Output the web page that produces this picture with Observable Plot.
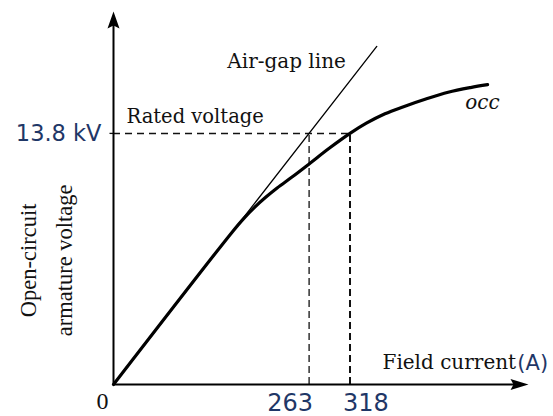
<!DOCTYPE html>
<html>
<head>
<meta charset="utf-8">
<script src="https://cdn.jsdelivr.net/npm/d3@7"></script>
<script src="https://cdn.jsdelivr.net/npm/@observablehq/plot@0.6"></script>
<style>
  html, body { margin: 0; padding: 0; background: #fff; }
</style>
</head>
<body>
<div id="chart"></div>
<script>
// Open-circuit characteristic (OCC) of a synchronous generator
const fieldCurrent = [0, 160, 175, 190, 205, 220, 240, 263, 290, 318, 340, 365, 390, 420, 450, 480, 503]; // A
const occVoltage   = [0, 8.4, 9.12, 9.75, 10.3, 10.8, 11.4, 12.12, 12.98, 13.8, 14.36, 14.88, 15.27, 15.69, 16.06, 16.32, 16.48]; // kV

// Air-gap line: the straight continuation of the OCC's linear part
const airGapCurrent = [0, 354];
const airGapVoltage = [0, 18.58];

// Rated voltage and the field currents that give it (air-gap line, OCC)
const ratedVoltage = 13.8;
const ratedCurrents = [263, 318];
const xTickLabels = ["263", "318"];
const yTickLabel = "13.8 kV";

// Axis extents
const xMax = 558;
const yMax = 20.5;

const occ = fieldCurrent.map((x, i) => ({x, y: occVoltage[i]}));
const airGap = airGapCurrent.map((x, i) => ({x, y: airGapVoltage[i]}));
const ticks = ratedCurrents.map((x, i) => ({x, label: xTickLabels[i]}));

const navy = "#1f3767";
const serif = "DejaVu Serif";
const times = "Liberation Serif";
const sans = "DejaVu Sans";

// Filled arrowheads for the axis ends, tip at the anchor point
const arrowUp = {
  draw(ctx) {
    ctx.moveTo(0, 0);
    ctx.lineTo(6, 17);
    ctx.lineTo(0, 14);
    ctx.lineTo(-6, 17);
    ctx.closePath();
  }
};
const arrowRight = {
  draw(ctx) {
    ctx.moveTo(0, 0);
    ctx.lineTo(-18, -5.5);
    ctx.lineTo(-15, 0);
    ctx.lineTo(-18, 5.5);
    ctx.closePath();
  }
};
// Short tick to the left of the vertical axis
const leftTick = {
  draw(ctx) {
    ctx.moveTo(-4, 0);
    ctx.lineTo(0, 0);
  }
};

const chart = Plot.plot({
  width: 553,
  height: 416,
  marginLeft: 113,
  marginRight: 25,
  marginTop: 11,
  marginBottom: 32,
  x: {type: "linear", domain: [0, xMax], axis: null},
  y: {type: "linear", domain: [0, yMax], axis: null},
  marks: [
    // rated-voltage guides
    Plot.ruleY([ratedVoltage], {x1: 0, x2: ratedCurrents[1], stroke: "#111", strokeWidth: 1.5, strokeDasharray: "7,5"}),
    Plot.ruleX([ratedCurrents[0]], {y1: 0, y2: ratedVoltage, stroke: "#111", strokeWidth: 1.3, strokeDasharray: "7,4"}),
    Plot.ruleX([ratedCurrents[1]], {y1: 0, y2: ratedVoltage, stroke: "#111", strokeWidth: 2, strokeDasharray: "7,4"}),
    Plot.dot([{x: 0, y: ratedVoltage}], {x: "x", y: "y", symbol: leftTick, fill: "none", stroke: "#111", strokeWidth: 1.3}),

    // axes
    Plot.ruleX([0], {y1: 0, y2: yMax - 0.5, stroke: "#000", strokeWidth: 2}),
    Plot.ruleY([0], {x1: 0, x2: xMax - 10, stroke: "#000", strokeWidth: 2}),
    Plot.dot([{x: 0, y: yMax}], {x: "x", y: "y", symbol: arrowUp, fill: "#000", stroke: "none"}),
    Plot.dot([{x: xMax, y: 0}], {x: "x", y: "y", symbol: arrowRight, fill: "#000", stroke: "none"}),

    // air-gap line and OCC
    Plot.line(airGap, {x: "x", y: "y", stroke: "#000", strokeWidth: 1.3}),
    Plot.line(occ, {x: "x", y: "y", stroke: "#000", strokeWidth: 3.2, curve: "catmull-rom"}),

    // tick labels
    Plot.text([{x: 0, y: ratedVoltage, t: yTickLabel}], {text: "t", x: "x", y: "y", dx: -12, textAnchor: "end",
      fontFamily: sans, fontSize: 22.5, fill: navy}),
    Plot.text([{x: 0, y: 0, t: "0"}], {text: "t", x: "x", y: "y", dx: -11, dy: 17,
      fontFamily: times, fontSize: 24, fill: "#111"}),
    Plot.text(ticks.slice(0, 1), {text: "label", x: "x", y: () => 0, dx: 4, dy: 19, textAnchor: "end",
      fontFamily: sans, fontSize: 24, fill: navy}),
    Plot.text(ticks.slice(1), {text: "label", x: "x", y: () => 0, dx: -7, dy: 19, textAnchor: "start",
      fontFamily: sans, fontSize: 24, fill: navy}),

    // annotations
    Plot.text([{x: 153, y: 17.72, t: "Air-gap line"}], {text: "t", x: "x", y: "y", textAnchor: "start",
      fontFamily: serif, fontSize: 20, fill: "#111"}),
    Plot.text([{x: 17.5, y: 14.7, t: "Rated voltage"}], {text: "t", x: "x", y: "y", textAnchor: "start",
      fontFamily: serif, fontSize: 19.5, fill: "#111"}),
    Plot.text([{x: 473, y: 15.52, t: "occ"}], {text: "t", x: "x", y: "y", textAnchor: "start",
      fontFamily: serif, fontStyle: "italic", fontSize: 20, fill: "#111"}),

    // axis titles
    Plot.text([{x: 361.7, y: 1.18, t: "Field current"}], {text: "t", x: "x", y: "y", textAnchor: "start",
      fontFamily: serif, fontSize: 20, fill: "#111"}),
    Plot.text([{x: 543, y: 1.18, t: "(A)"}], {text: "t", x: "x", y: "y", textAnchor: "start",
      fontFamily: sans, fontSize: 21, fill: navy}),
    Plot.text([{x: -96, y: 6.82, t: "Open-circuit\narmature voltage"}], {text: "t", x: "x", y: "y", rotate: -90,
      lineHeight: 1.62, textAnchor: "middle", fontFamily: times, fontSize: 22.5, fill: "#111"})
  ]
});

document.getElementById("chart").append(chart);
</script>
</body>
</html>
